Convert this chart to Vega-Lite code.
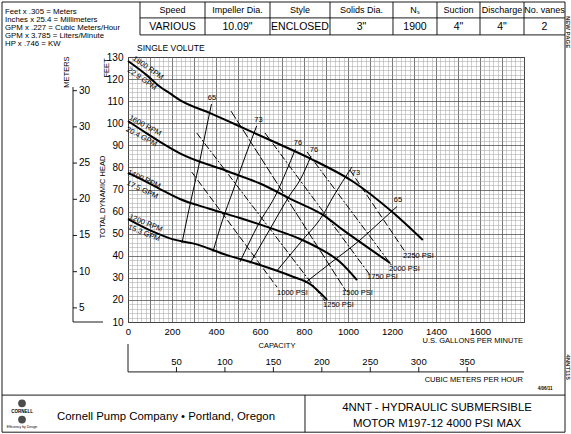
{
  "$schema": "https://vega.github.io/schema/vega-lite/v6.json",
  "width": 396,
  "height": 265,
  "autosize": {"type": "none"},
  "padding": {"left": 128, "top": 57, "right": 47, "bottom": 112},
  "background": "white",
  "config": {"view": {"stroke": "black", "strokeWidth": 1}, "font": "Liberation Sans"},
  "datasets": {
    "curves": [
      {"kind": "head", "name": "1800", "gpm": 0, "ft": 128.2},
      {"kind": "head", "name": "1800", "gpm": 85, "ft": 121.8},
      {"kind": "head", "name": "1800", "gpm": 145.5, "ft": 116.5},
      {"kind": "head", "name": "1800", "gpm": 191, "ft": 113.5},
      {"kind": "head", "name": "1800", "gpm": 236, "ft": 110.5},
      {"kind": "head", "name": "1800", "gpm": 373, "ft": 104.6},
      {"kind": "head", "name": "1800", "gpm": 494, "ft": 99.2},
      {"kind": "head", "name": "1800", "gpm": 645, "ft": 92.4},
      {"kind": "head", "name": "1800", "gpm": 827, "ft": 84.1},
      {"kind": "head", "name": "1800", "gpm": 1024, "ft": 73.5},
      {"kind": "head", "name": "1800", "gpm": 1199, "ft": 60.0},
      {"kind": "head", "name": "1800", "gpm": 1340, "ft": 47.1},
      {"kind": "head", "name": "1600", "gpm": 0, "ft": 101.0},
      {"kind": "head", "name": "1600", "gpm": 85, "ft": 95.4},
      {"kind": "head", "name": "1600", "gpm": 145.5, "ft": 91.6},
      {"kind": "head", "name": "1600", "gpm": 236, "ft": 86.4},
      {"kind": "head", "name": "1600", "gpm": 449, "ft": 78.4},
      {"kind": "head", "name": "1600", "gpm": 600, "ft": 72.7},
      {"kind": "head", "name": "1600", "gpm": 750, "ft": 65.2},
      {"kind": "head", "name": "1600", "gpm": 886, "ft": 58.5},
      {"kind": "head", "name": "1600", "gpm": 977, "ft": 51.7},
      {"kind": "head", "name": "1600", "gpm": 1086, "ft": 44.0},
      {"kind": "head", "name": "1600", "gpm": 1191, "ft": 36.7},
      {"kind": "head", "name": "1400", "gpm": 0, "ft": 77.5},
      {"kind": "head", "name": "1400", "gpm": 77, "ft": 73.8},
      {"kind": "head", "name": "1400", "gpm": 145.5, "ft": 70.2},
      {"kind": "head", "name": "1400", "gpm": 236, "ft": 65.7},
      {"kind": "head", "name": "1400", "gpm": 373, "ft": 61.2},
      {"kind": "head", "name": "1400", "gpm": 509, "ft": 57.1},
      {"kind": "head", "name": "1400", "gpm": 645, "ft": 52.6},
      {"kind": "head", "name": "1400", "gpm": 782, "ft": 47.6},
      {"kind": "head", "name": "1400", "gpm": 873, "ft": 43.1},
      {"kind": "head", "name": "1400", "gpm": 964, "ft": 37.2},
      {"kind": "head", "name": "1400", "gpm": 1041, "ft": 29.0},
      {"kind": "head", "name": "1200", "gpm": 0, "ft": 56.6},
      {"kind": "head", "name": "1200", "gpm": 114, "ft": 50.9},
      {"kind": "head", "name": "1200", "gpm": 205, "ft": 47.4},
      {"kind": "head", "name": "1200", "gpm": 295, "ft": 45.6},
      {"kind": "head", "name": "1200", "gpm": 450, "ft": 40.3},
      {"kind": "head", "name": "1200", "gpm": 600, "ft": 35.8},
      {"kind": "head", "name": "1200", "gpm": 750, "ft": 30.5},
      {"kind": "head", "name": "1200", "gpm": 827, "ft": 27.2},
      {"kind": "head", "name": "1200", "gpm": 905, "ft": 20.0},
      {"kind": "eff", "name": "65a", "gpm": 245.5, "ft": 45.8},
      {"kind": "eff", "name": "65a", "gpm": 272.7, "ft": 58.9},
      {"kind": "eff", "name": "65a", "gpm": 296.8, "ft": 69.8},
      {"kind": "eff", "name": "65a", "gpm": 327.3, "ft": 83.4},
      {"kind": "eff", "name": "65a", "gpm": 350, "ft": 94.7},
      {"kind": "eff", "name": "65a", "gpm": 379.5, "ft": 108.7},
      {"kind": "eff", "name": "73a", "gpm": 386.4, "ft": 41.9},
      {"kind": "eff", "name": "73a", "gpm": 427, "ft": 55.3},
      {"kind": "eff", "name": "73a", "gpm": 478.6, "ft": 69.8},
      {"kind": "eff", "name": "73a", "gpm": 531.8, "ft": 84.7},
      {"kind": "eff", "name": "73a", "gpm": 585, "ft": 98.8},
      {"kind": "eff", "name": "76a", "gpm": 509, "ft": 37.2},
      {"kind": "eff", "name": "76a", "gpm": 591, "ft": 53.9},
      {"kind": "eff", "name": "76a", "gpm": 676, "ft": 68.4},
      {"kind": "eff", "name": "76a", "gpm": 718, "ft": 77.9},
      {"kind": "eff", "name": "76a", "gpm": 761, "ft": 88.3},
      {"kind": "eff", "name": "76b", "gpm": 554.5, "ft": 36.5},
      {"kind": "eff", "name": "76b", "gpm": 645.5, "ft": 52.1},
      {"kind": "eff", "name": "76b", "gpm": 736, "ft": 67.5},
      {"kind": "eff", "name": "76b", "gpm": 782, "ft": 74.3},
      {"kind": "eff", "name": "76b", "gpm": 832, "ft": 85.2},
      {"kind": "eff", "name": "73b", "gpm": 677, "ft": 33.2},
      {"kind": "eff", "name": "73b", "gpm": 782, "ft": 45.8},
      {"kind": "eff", "name": "73b", "gpm": 886, "ft": 58.5},
      {"kind": "eff", "name": "73b", "gpm": 932, "ft": 66.6},
      {"kind": "eff", "name": "73b", "gpm": 1018, "ft": 80.2},
      {"kind": "eff", "name": "65b", "gpm": 804.5, "ft": 27.7},
      {"kind": "eff", "name": "65b", "gpm": 927, "ft": 37.2},
      {"kind": "eff", "name": "65b", "gpm": 1054.5, "ft": 47.1},
      {"kind": "eff", "name": "65b", "gpm": 1145.5, "ft": 55.3},
      {"kind": "eff", "name": "65b", "gpm": 1223, "ft": 62.3},
      {"kind": "psi", "name": "1000 PSI", "gpm": 289.5, "ft": 77.9},
      {"kind": "psi", "name": "1000 PSI", "gpm": 677.3, "ft": 25.8},
      {"kind": "psi", "name": "1250 PSI", "gpm": 312.3, "ft": 95.6},
      {"kind": "psi", "name": "1250 PSI", "gpm": 895.5, "ft": 19.5},
      {"kind": "psi", "name": "1500 PSI", "gpm": 468.2, "ft": 105.5},
      {"kind": "psi", "name": "1500 PSI", "gpm": 990.9, "ft": 24.0},
      {"kind": "psi", "name": "1750 PSI", "gpm": 622.7, "ft": 95.6},
      {"kind": "psi", "name": "1750 PSI", "gpm": 1100, "ft": 31.3},
      {"kind": "psi", "name": "2000 PSI", "gpm": 813.6, "ft": 87.0},
      {"kind": "psi", "name": "2000 PSI", "gpm": 1200, "ft": 35.4},
      {"kind": "psi", "name": "2250 PSI", "gpm": 1009, "ft": 78.8},
      {"kind": "psi", "name": "2250 PSI", "gpm": 1263.6, "ft": 41.2}
    ],
    "curveLabels": [
      {"curve": "1800", "label": "1800 RPM", "gpm": 90.9, "ft": 125.0},
      {"curve": "1800", "label": "22.9 GPM", "gpm": 63.6, "ft": 120.0},
      {"curve": "1600", "label": "1600 RPM", "gpm": 77.3, "ft": 98.8},
      {"curve": "1600", "label": "20.4 GPM", "gpm": 61, "ft": 93.8},
      {"curve": "1400", "label": "1400 RPM", "gpm": 72.7, "ft": 74.6},
      {"curve": "1400", "label": "17.5 GPM", "gpm": 65, "ft": 69.8},
      {"curve": "1200", "label": "1200 RPM", "gpm": 80.3, "ft": 54.7},
      {"curve": "1200", "label": "15.3 GPM", "gpm": 72.7, "ft": 50.2}
    ],
    "effLabels": [
      {"label": "65", "gpm": 381.8, "ft": 111.4},
      {"label": "73", "gpm": 593, "ft": 101.5},
      {"label": "76", "gpm": 772.7, "ft": 91.1},
      {"label": "76", "gpm": 845.5, "ft": 87.9},
      {"label": "73", "gpm": 1036, "ft": 77.5},
      {"label": "65", "gpm": 1227, "ft": 65.2}
    ],
    "psiLabels": [
      {"label": "1000 PSI", "gpm": 747.7, "ft": 23.1},
      {"label": "1250 PSI", "gpm": 956.8, "ft": 17.7},
      {"label": "1500 PSI", "gpm": 1043, "ft": 23.1},
      {"label": "1750 PSI", "gpm": 1156.8, "ft": 30.4},
      {"label": "2000 PSI", "gpm": 1256.8, "ft": 34.0},
      {"label": "2250 PSI", "gpm": 1320.5, "ft": 39.9}
    ],
    "segments": [
      {"gpm": -572.7, "ft": 154.9, "gpm2": 1986.4, "ft2": 154.9},
      {"gpm": -572.7, "ft": -39.9, "gpm2": 1986.4, "ft2": -39.9},
      {"gpm": -572.7, "ft": 154.9, "gpm2": -572.7, "ft2": -39.9},
      {"gpm": 1986.4, "ft": 154.9, "gpm2": 1986.4, "ft2": -39.9},
      {"gpm": -572.7, "ft": -23.1, "gpm2": 1986.4, "ft2": -23.1},
      {"gpm": 804.5, "ft": -23.1, "gpm2": 804.5, "ft2": -39.9},
      {"gpm": 54.5, "ft": 154.9, "gpm2": 54.5, "ft2": 140.0},
      {"gpm": 54.5, "ft": 147.7, "gpm2": 1986.4, "ft2": 147.7},
      {"gpm": 54.5, "ft": 140.0, "gpm2": 1986.4, "ft2": 140.0},
      {"gpm": 350, "ft": 154.9, "gpm2": 350, "ft2": 140.0},
      {"gpm": 645.5, "ft": 154.9, "gpm2": 645.5, "ft2": 140.0},
      {"gpm": 918.2, "ft": 154.9, "gpm2": 918.2, "ft2": 140.0},
      {"gpm": 1204.5, "ft": 154.9, "gpm2": 1204.5, "ft2": 140.0},
      {"gpm": 1404.5, "ft": 154.9, "gpm2": 1404.5, "ft2": 140.0},
      {"gpm": 1600, "ft": 154.9, "gpm2": 1600, "ft2": 140.0},
      {"gpm": 1800, "ft": 154.9, "gpm2": 1800, "ft2": 140.0},
      {"gpm": -250, "ft": 116.4, "gpm2": -250, "ft2": 10},
      {"gpm": -250, "ft": 10, "gpm2": -113.6, "ft2": 10},
      {"gpm": -250, "ft": 114.75, "gpm2": -231.8, "ft2": 114.75},
      {"gpm": -250, "ft": 98.36, "gpm2": -231.8, "ft2": 98.36},
      {"gpm": -250, "ft": 81.97, "gpm2": -231.8, "ft2": 81.97},
      {"gpm": -250, "ft": 65.57, "gpm2": -231.8, "ft2": 65.57},
      {"gpm": -250, "ft": 49.18, "gpm2": -231.8, "ft2": 49.18},
      {"gpm": -250, "ft": 32.79, "gpm2": -231.8, "ft2": 32.79},
      {"gpm": -250, "ft": 16.39, "gpm2": -231.8, "ft2": 16.39},
      {"gpm": 0, "ft": -12.6, "gpm2": 1800, "ft2": -12.6},
      {"gpm": 0, "ft": 0.04, "gpm2": 0, "ft2": -12.6},
      {"gpm": 220.3, "ft": -12.6, "gpm2": 220.3, "ft2": -10.4},
      {"gpm": 440.5, "ft": -12.6, "gpm2": 440.5, "ft2": -10.4},
      {"gpm": 660.8, "ft": -12.6, "gpm2": 660.8, "ft2": -10.4},
      {"gpm": 881.1, "ft": -12.6, "gpm2": 881.1, "ft2": -10.4},
      {"gpm": 1101.3, "ft": -12.6, "gpm2": 1101.3, "ft2": -10.4},
      {"gpm": 1321.6, "ft": -12.6, "gpm2": 1321.6, "ft2": -10.4},
      {"gpm": 1541.9, "ft": -12.6, "gpm2": 1541.9, "ft2": -10.4}
    ],
    "notes": [
      {"label": "Feet x .305 = Meters", "gpm": -559.1, "ft": 150.4},
      {"label": "Inches x 25.4 = Millimeters", "gpm": -559.1, "ft": 146.8},
      {"label": "GPM x .227 = Cubic Meters/Hour", "gpm": -559.1, "ft": 143.1},
      {"label": "GPM x 3.785 = Liters/Minute", "gpm": -559.1, "ft": 139.5},
      {"label": "HP x .746 = KW", "gpm": -559.1, "ft": 135.9}
    ],
    "tableHead": [
      {"label": "Speed", "gpm": 202.3, "ft": 151.3},
      {"label": "Impeller Dia.", "gpm": 497.7, "ft": 151.3},
      {"label": "Style", "gpm": 781.8, "ft": 151.3},
      {"label": "Solids Dia.", "gpm": 1061.4, "ft": 151.3},
      {"label": "Nₛ", "gpm": 1304.5, "ft": 151.3},
      {"label": "Suction", "gpm": 1502.3, "ft": 151.3},
      {"label": "Discharge", "gpm": 1700, "ft": 151.3},
      {"label": "No. vanes", "gpm": 1893.2, "ft": 151.3}
    ],
    "tableValues": [
      {"label": "VARIOUS", "gpm": 202.3, "ft": 143.6},
      {"label": "10.09\"", "gpm": 497.7, "ft": 143.6},
      {"label": "ENCLOSED", "gpm": 781.8, "ft": 143.6},
      {"label": "3\"", "gpm": 1061.4, "ft": 143.6},
      {"label": "1900", "gpm": 1304.5, "ft": 143.6},
      {"label": "4\"", "gpm": 1502.3, "ft": 143.6},
      {"label": "4\"", "gpm": 1700, "ft": 143.6},
      {"label": "2", "gpm": 1893.2, "ft": 143.6}
    ],
    "plainLeft": [
      {"label": "SINGLE VOLUTE", "gpm": 40.9, "ft": 134.1}
    ],
    "meterLabels": [
      {"label": "30", "gpm": -222.7, "ft": 114.75},
      {"label": "30", "gpm": -222.7, "ft": 98.36},
      {"label": "25", "gpm": -222.7, "ft": 81.97},
      {"label": "20", "gpm": -222.7, "ft": 65.57},
      {"label": "15", "gpm": -222.7, "ft": 49.18},
      {"label": "10", "gpm": -222.7, "ft": 32.79},
      {"label": "5", "gpm": -222.7, "ft": 16.39}
    ],
    "cmhLabels": [
      {"label": "50", "gpm": 220.3, "ft": -8.1},
      {"label": "100", "gpm": 440.5, "ft": -8.1},
      {"label": "150", "gpm": 660.8, "ft": -8.1},
      {"label": "200", "gpm": 881.1, "ft": -8.1},
      {"label": "250", "gpm": 1101.3, "ft": -8.1},
      {"label": "300", "gpm": 1321.6, "ft": -8.1},
      {"label": "350", "gpm": 1541.9, "ft": -8.1}
    ],
    "leftTitles": [
      {"label": "METERS", "gpm": -277.3, "ft": 123.2},
      {"label": "FEET", "gpm": -95.5, "ft": 125.0},
      {"label": "TOTAL DYNAMIC HEAD", "gpm": -113.6, "ft": 66.6}
    ],
    "centerTitles": [
      {"label": "CAPACITY", "gpm": 677, "ft": -0.9}
    ],
    "rightTitles": [
      {"label": "U.S. GALLONS PER MINUTE", "gpm": 1795.5, "ft": 1.4},
      {"label": "CUBIC METERS PER HOUR", "gpm": 1795.5, "ft": -16.3}
    ],
    "sideTexts": [
      {"label": "NEW PAGE", "gpm": 2000, "ft": 141.3},
      {"label": "4NNT115", "gpm": 2000, "ft": -10.4}
    ],
    "footerTexts": [
      {"label": "Cornell Pump Company  •  Portland, Oregon", "gpm": 172.7, "ft": -33.0},
      {"label": "4NNT - HYDRAULIC SUBMERSIBLE", "gpm": 1404.5, "ft": -28.9},
      {"label": "MOTOR M197-12 4000 PSI MAX", "gpm": 1404.5, "ft": -36.2}
    ],
    "smallTexts": [
      {"label": "4/06/11", "gpm": 1895.5, "ft": -20.3},
      {"label": "CORNELL", "gpm": -481.8, "ft": -30.8}
    ],
    "tinyTexts": [
      {"label": "Efficiency by Design", "gpm": -481.8, "ft": -37.6}
    ],
    "logoMarks": [
      {"gpm": -481.8, "ft": -26.8},
      {"gpm": -481.8, "ft": -34.2}
    ]
  },
  "encoding": {
    "x": {
      "field": "gpm",
      "type": "quantitative",
      "scale": {"domain": [0, 1800], "nice": false, "zero": false},
      "axis": {
        "title": null,
        "values": [0,20,40,60,80,100,120,140,160,180,200,220,240,260,280,300,320,340,360,380,400,420,440,460,480,500,520,540,560,580,600,620,640,660,680,700,720,740,760,780,800,820,840,860,880,900,920,940,960,980,1000,1020,1040,1060,1080,1100,1120,1140,1160,1180,1200,1220,1240,1260,1280,1300,1320,1340,1360,1380,1400,1420,1440,1460,1480,1500,1520,1540,1560,1580,1600,1620,1640,1660,1680,1700,1720,1740,1760,1780,1800],
        "format": "d",
        "labelExpr": "datum.value % 200 === 0 && datum.value < 1800 ? datum.label : ''",
        "labelOverlap": false,
        "labelFlush": false,
        "labelFont": "Liberation Sans Narrow, Liberation Sans",
        "labelFontSize": 9.5,
        "labelColor": "black",
        "labelPadding": 4,
        "ticks": false,
        "domain": false,
        "grid": true,
        "gridColor": {"condition": {"test": "datum.value % 100 === 0", "value": "#555555"}, "value": "#a0a0a0"},
        "gridWidth": {"condition": {"test": "datum.value % 100 === 0", "value": 0.8}, "value": 0.5},
        "gridOpacity": 1
      }
    },
    "y": {
      "field": "ft",
      "type": "quantitative",
      "scale": {"domain": [10, 130], "nice": false, "zero": false},
      "axis": {
        "title": null,
        "values": [10,12,14,16,18,20,22,24,26,28,30,32,34,36,38,40,42,44,46,48,50,52,54,56,58,60,62,64,66,68,70,72,74,76,78,80,82,84,86,88,90,92,94,96,98,100,102,104,106,108,110,112,114,116,118,120,122,124,126,128,130],
        "format": "d",
        "labelExpr": "datum.value % 10 === 0 ? datum.label : ''",
        "labelOverlap": false,
        "labelFlush": false,
        "labelFont": "Liberation Sans Narrow, Liberation Sans",
        "labelFontSize": 10,
        "labelColor": "black",
        "labelPadding": 5,
        "ticks": false,
        "domain": false,
        "grid": true,
        "gridColor": {"condition": {"test": "datum.value % 10 === 0", "value": "#555555"}, "value": "#a0a0a0"},
        "gridWidth": {"condition": {"test": "datum.value % 10 === 0", "value": 0.8}, "value": 0.5},
        "gridOpacity": 1
      }
    }
  },
  "layer": [
    {
      "data": {"name": "curves"},
      "transform": [{"filter": "datum.kind === 'head'"}],
      "mark": {"type": "line", "color": "black", "strokeWidth": 2, "interpolate": "monotone"},
      "encoding": {"detail": {"field": "name", "type": "nominal"}}
    },
    {
      "data": {"name": "curves"},
      "transform": [{"filter": "datum.kind === 'eff'"}],
      "mark": {"type": "line", "color": "black", "strokeWidth": 1, "interpolate": "monotone"},
      "encoding": {"detail": {"field": "name", "type": "nominal"}}
    },
    {
      "data": {"name": "curves"},
      "transform": [{"filter": "datum.kind === 'psi'"}],
      "mark": {"type": "line", "color": "black", "strokeWidth": 1},
      "encoding": {
        "detail": {"field": "name", "type": "nominal"},
        "strokeDash": {
          "field": "name",
          "type": "nominal",
          "scale": {"domain": ["1000 PSI", "1250 PSI", "1500 PSI", "1750 PSI", "2000 PSI", "2250 PSI"], "range": [[7, 3], [7, 2, 2, 2], [9, 2], [7, 2, 2, 2], [7, 2, 2, 2], [7, 3]]},
          "legend": null
        }
      }
    },
    {
      "data": {"name": "segments"},
      "mark": {"type": "rule", "color": "black", "strokeWidth": 0.9},
      "encoding": {
        "x2": {"field": "gpm2"},
        "y2": {"field": "ft2"}
      }
    },
    {
      "data": {"name": "curveLabels"},
      "mark": {"type": "text", "font": "Liberation Sans Narrow, Liberation Sans", "fontSize": 7.5, "align": "center", "baseline": "middle", "color": "black"},
      "encoding": {
        "text": {"field": "label"},
        "angle": {"field": "curve", "type": "nominal", "scale": {"type": "ordinal", "domain": ["1800", "1600", "1400", "1200"], "range": [35, 28, 25, 22]}, "legend": null}
      }
    },
    {
      "data": {"name": "effLabels"},
      "mark": {"type": "text", "font": "Liberation Sans Narrow, Liberation Sans", "fontSize": 7.5, "align": "center", "baseline": "middle", "color": "black"},
      "encoding": {"text": {"field": "label"}}
    },
    {
      "data": {"name": "psiLabels"},
      "mark": {"type": "text", "font": "Liberation Sans Narrow, Liberation Sans", "fontSize": 7.5, "align": "center", "baseline": "middle", "color": "black"},
      "encoding": {"text": {"field": "label"}}
    },
    {
      "data": {"name": "notes"},
      "mark": {"type": "text", "fontSize": 7.8, "align": "left", "baseline": "middle", "color": "black"},
      "encoding": {"text": {"field": "label"}}
    },
    {
      "data": {"name": "tableHead"},
      "mark": {"type": "text", "fontSize": 9, "align": "center", "baseline": "middle", "color": "black"},
      "encoding": {"text": {"field": "label"}}
    },
    {
      "data": {"name": "tableValues"},
      "mark": {"type": "text", "fontSize": 10.5, "align": "center", "baseline": "middle", "color": "black"},
      "encoding": {"text": {"field": "label"}}
    },
    {
      "data": {"name": "plainLeft"},
      "mark": {"type": "text", "fontSize": 8.5, "align": "left", "baseline": "middle", "color": "black"},
      "encoding": {"text": {"field": "label"}}
    },
    {
      "data": {"name": "meterLabels"},
      "mark": {"type": "text", "font": "Liberation Sans Narrow, Liberation Sans", "fontSize": 10, "align": "left", "baseline": "middle", "color": "black"},
      "encoding": {"text": {"field": "label"}}
    },
    {
      "data": {"name": "cmhLabels"},
      "mark": {"type": "text", "font": "Liberation Sans Narrow, Liberation Sans", "fontSize": 9.5, "align": "center", "baseline": "middle", "color": "black"},
      "encoding": {"text": {"field": "label"}}
    },
    {
      "data": {"name": "leftTitles"},
      "mark": {"type": "text", "font": "Liberation Sans Narrow, Liberation Sans", "fontSize": 7.5, "align": "center", "baseline": "middle", "angle": 270, "color": "black"},
      "encoding": {"text": {"field": "label"}}
    },
    {
      "data": {"name": "centerTitles"},
      "mark": {"type": "text", "font": "Liberation Sans Narrow, Liberation Sans", "fontSize": 7.5, "align": "center", "baseline": "middle", "color": "black"},
      "encoding": {"text": {"field": "label"}}
    },
    {
      "data": {"name": "rightTitles"},
      "mark": {"type": "text", "font": "Liberation Sans Narrow, Liberation Sans", "fontSize": 7.5, "align": "right", "baseline": "middle", "color": "black"},
      "encoding": {"text": {"field": "label"}}
    },
    {
      "data": {"name": "sideTexts"},
      "mark": {"type": "text", "fontSize": 6, "fontWeight": "bold", "align": "center", "baseline": "middle", "angle": 90, "color": "#333333"},
      "encoding": {"text": {"field": "label"}}
    },
    {
      "data": {"name": "footerTexts"},
      "mark": {"type": "text", "fontSize": 11.4, "align": "center", "baseline": "middle", "color": "black"},
      "encoding": {"text": {"field": "label"}}
    },
    {
      "data": {"name": "logoMarks"},
      "mark": {"type": "point", "shape": "circle", "filled": true, "size": 60, "color": "black", "scaleY": 0.5},
      "encoding": {}
    },
    {
      "data": {"name": "smallTexts"},
      "mark": {"type": "text", "fontSize": 4.5, "fontWeight": "bold", "align": "center", "baseline": "middle", "color": "black"},
      "encoding": {"text": {"field": "label"}}
    },
    {
      "data": {"name": "tinyTexts"},
      "mark": {"type": "text", "fontSize": 3.4, "align": "center", "baseline": "middle", "color": "black"},
      "encoding": {"text": {"field": "label"}}
    }
  ]
}
